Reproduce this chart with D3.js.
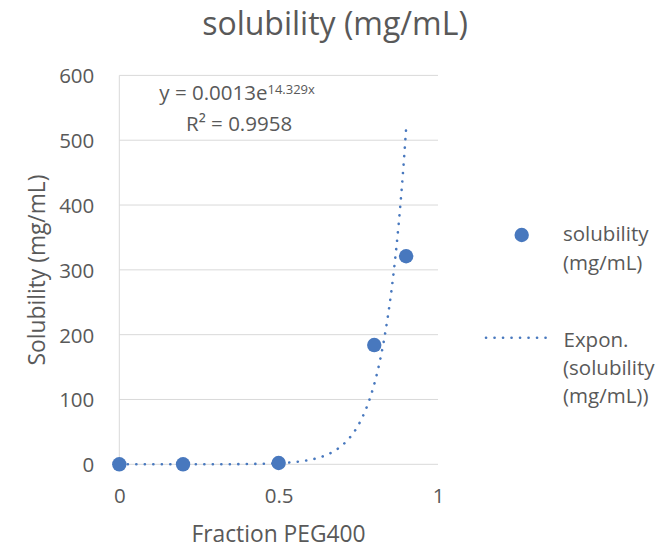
<!DOCTYPE html>
<html><head><meta charset="utf-8">
<script src="https://cdn.jsdelivr.net/npm/d3@7/dist/d3.min.js"></script>
<style>body{margin:0;background:#fff}text{font-family:"Open Sans",sans-serif}</style>
</head><body><svg id="c" width="665" height="549"></svg>
<script>
const xValues = [0, 0.2, 0.5, 0.8, 0.9];
const solubility = [0, 0, 2, 184, 321];
const trendA = 0.0013, trendB = 14.329;
const xTicks = [0, 0.5, 1];
const yTicks = [0, 100, 200, 300, 400, 500, 600];
const title = "solubility (mg/mL)";
const xTitle = "Fraction PEG400";
const yTitle = "Solubility (mg/mL)";

const svg = d3.select("#c");
const blue = "#4878BE", txt = "#595959";
const fs = "20.5px", fsT = "22.8px";
const x = d3.scaleLinear().domain([0,1]).range([119.3, 438]);
const y = d3.scaleLinear().domain([0,600]).range([464.3, 75.4]);

// gridlines
svg.append("g").selectAll("line").data(yTicks).join("line")
  .attr("x1", x(0)).attr("x2", x(1)).attr("y1", d=>y(d)).attr("y2", d=>y(d))
  .attr("stroke", "#d9d9d9").attr("stroke-width", 1);
// y axis line
svg.append("line").attr("x1", x(0)).attr("x2", x(0)).attr("y1", y(0)).attr("y2", y(600))
  .attr("stroke", "#d9d9d9").attr("stroke-width", 1);

// tick labels
const yAxis = d3.axisLeft(y).tickValues(yTicks).tickSize(0).tickPadding(25);
const gy = svg.append("g").attr("transform", `translate(${x(0)},0)`).call(yAxis);
gy.select(".domain").remove();
gy.selectAll("text").attr("fill", txt).attr("dy", null).attr("dominant-baseline", null)
  .attr("y", 7.5).style("font-size", fs).style("font-family", '"Open Sans",sans-serif');
const xAxis = d3.axisBottom(x).tickValues(xTicks).tickSize(0).tickPadding(0).tickFormat(d3.format("~g"));
const gx = svg.append("g").attr("transform", `translate(0,${y(0)})`).call(xAxis);
gx.select(".domain").remove();
gx.selectAll("text").attr("fill", txt).attr("dy", null).attr("y", 39)
  .style("font-size", fs).style("font-family", '"Open Sans",sans-serif');

// trendline
const tx = d3.range(0, 0.9001, 0.005);
const line = d3.line().x(d=>x(d)).y(d=>y(trendA*Math.exp(trendB*d)));
svg.append("path").datum(tx).attr("d", line).attr("fill","none")
  .attr("stroke", blue).attr("stroke-width", 2.6).attr("stroke-linecap","round")
  .attr("stroke-dasharray", "0.1 8.4");

// points
svg.append("g").selectAll("circle").data(xValues).join("circle")
  .attr("cx", d=>x(d)).attr("cy", (d,i)=>y(solubility[i])).attr("r", 7.2).attr("fill", blue);

// title
svg.append("text").attr("x", 335).attr("y", 34.5).attr("text-anchor","middle")
  .attr("fill", txt).style("font-size","32px").text(title);
svg.append("text").attr("x", 278.5).attr("y", 542.3).attr("text-anchor","middle")
  .attr("fill", txt).style("font-size",fsT).text(xTitle);
svg.append("text").attr("transform", "translate(45,270) rotate(-90)").attr("text-anchor","middle")
  .attr("fill", txt).style("font-size",fsT).text(yTitle);

// equation
const eq = svg.append("text").attr("x", 159.3).attr("y", 99.5).attr("fill", txt).style("font-size",fs);
eq.append("tspan").text("y = 0.0013e");
eq.append("tspan").attr("dy", -6).style("font-size","13px").text("14.329x");
svg.append("text").attr("x", 186).attr("y", 131).attr("fill", txt).style("font-size",fs).text("R² = 0.9958");

// legend
svg.append("circle").attr("cx", 521.7).attr("cy", 235).attr("r", 7.2).attr("fill", blue);
const l1 = svg.append("text").attr("fill", txt).style("font-size",fs);
l1.append("tspan").attr("x", 563).attr("y", 241).text("solubility");
l1.append("tspan").attr("x", 563).attr("y", 269.5).text("(mg/mL)");
svg.append("line").attr("x1", 486).attr("x2", 550).attr("y1", 337.7).attr("y2", 337.7)
  .attr("stroke", blue).attr("stroke-width", 2.6).attr("stroke-linecap","round").attr("stroke-dasharray","0.1 8.4");
const l2 = svg.append("text").attr("fill", txt).style("font-size",fs);
l2.append("tspan").attr("x", 563.5).attr("y", 346.5).text("Expon.");
l2.append("tspan").attr("x", 563).attr("y", 375).text("(solubility");
l2.append("tspan").attr("x", 563).attr("y", 403).text("(mg/mL))");
</script></body></html>
